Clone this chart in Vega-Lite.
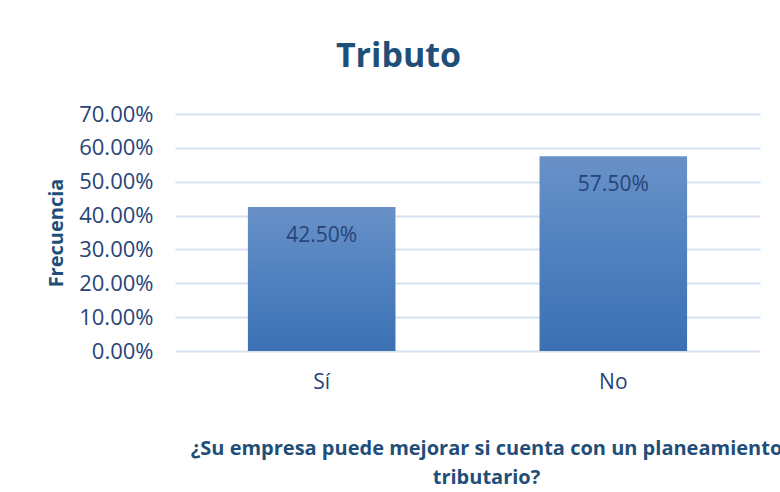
{
  "$schema": "https://vega.github.io/schema/vega-lite/v6.json",
  "autosize": "none",
  "width": 585,
  "height": 237,
  "padding": {"left": 175, "top": 114, "right": 20, "bottom": 141},
  "background": "white",
  "config": {"view": {"stroke": null}, "font": "Open Sans"},
  "title": {
    "text": "Tributo",
    "fontSize": 34,
    "fontWeight": "bold",
    "color": "#1F4E79",
    "font": "Open Sans",
    "anchor": "middle",
    "dx": -69,
    "offset": 29
  },
  "data": {
    "values": [
      {"respuesta": "Sí", "frecuencia": 0.425},
      {"respuesta": "No", "frecuencia": 0.575}
    ]
  },
  "encoding": {
    "x": {
      "field": "respuesta",
      "type": "nominal",
      "sort": ["Sí", "No"],
      "scale": {"paddingInner": 0.494, "paddingOuter": 0.25},
      "axis": {
        "title": ["¿Su empresa puede mejorar si cuenta con un planeamiento", "tributario?"],
        "titleFontSize": 20,
        "titleFontWeight": "bold",
        "titleColor": "#1F4E79",
        "titleFont": "Open Sans",
        "titleLineHeight": 29,
        "titlePadding": 46,
        "titleX": 311,
        "titleAnchor": "middle",
        "labelAngle": 0,
        "labelFontSize": 21,
        "labelColor": "#264478",
        "labelPadding": 20,
        "domain": false,
        "ticks": false
      }
    },
    "y": {
      "field": "frecuencia",
      "type": "quantitative",
      "scale": {"domain": [0, 0.7]},
      "axis": {
        "title": "Frecuencia",
        "titleFontSize": 20,
        "titleFontWeight": "bold",
        "titleColor": "#1F4E79",
        "titlePadding": 12,
        "format": ".2%",
        "values": [0, 0.1, 0.2, 0.3, 0.4, 0.5, 0.6, 0.7],
        "labelOverlap": false,
        "labelFontSize": 22,
        "labelColor": "#264478",
        "labelPadding": 22,
        "ticks": false,
        "domain": false,
        "gridColor": "#D6E1F2",
        "gridWidth": 2
      }
    }
  },
  "layer": [
    {
      "mark": {
        "type": "bar",
        "fill": {
          "gradient": "linear",
          "x1": 0, "y1": 0, "x2": 0, "y2": 1,
          "stops": [
            {"offset": 0, "color": "#6991C8"},
            {"offset": 0.5, "color": "#4F81BF"},
            {"offset": 1, "color": "#3C70B3"}
          ]
        }
      }
    },
    {
      "mark": {
        "type": "text",
        "baseline": "middle",
        "dy": 29,
        "fontSize": 21,
        "color": "#264478"
      },
      "encoding": {
        "text": {"field": "frecuencia", "type": "quantitative", "format": ".2%"}
      }
    }
  ]
}
